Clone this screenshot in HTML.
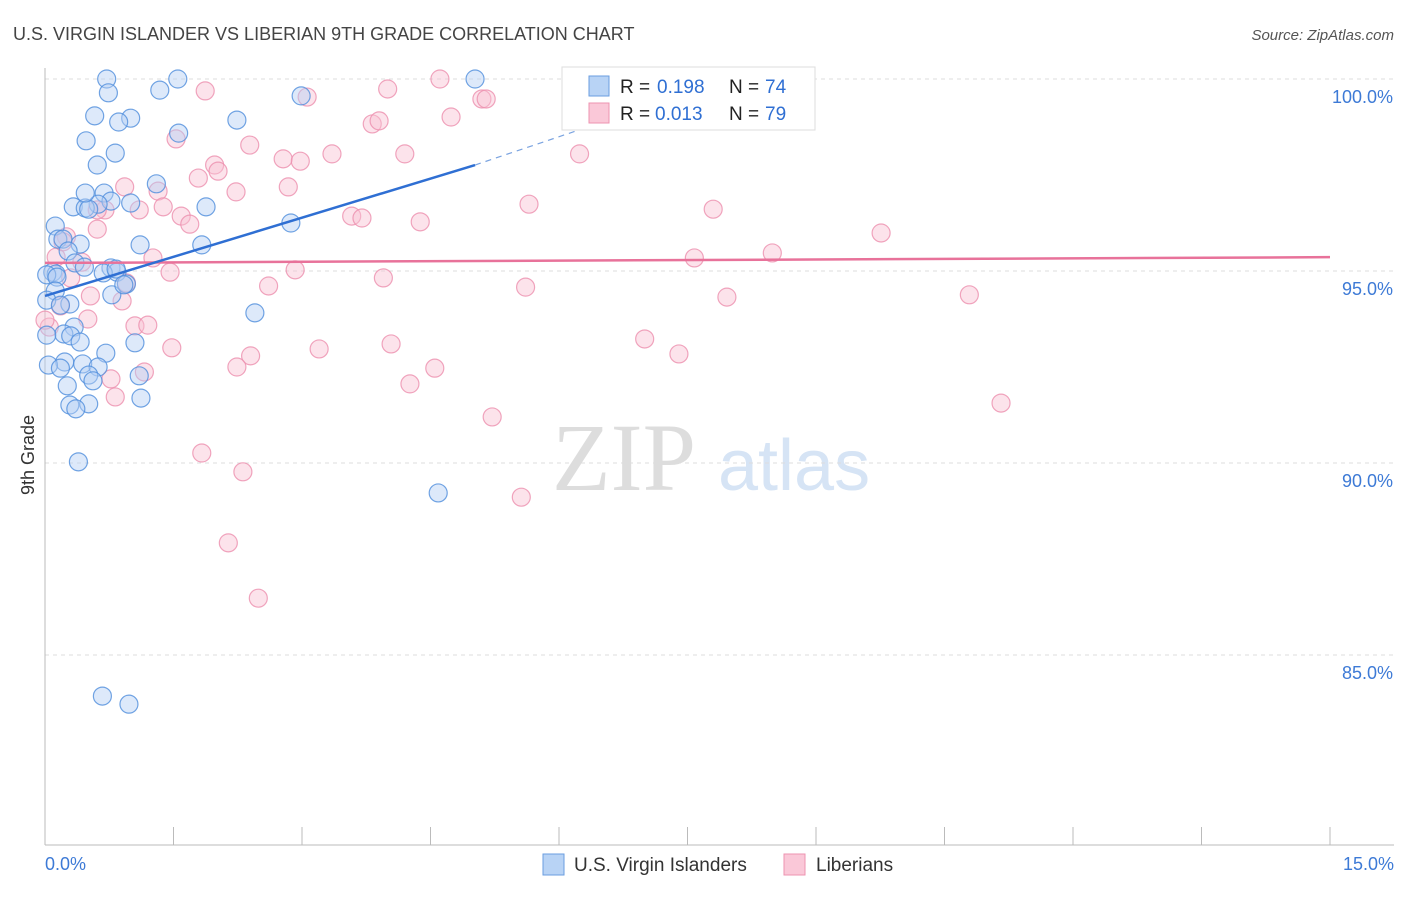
<!DOCTYPE html>
<html><head><meta charset="utf-8"><style>
body{margin:0;background:#fff;font-family:"Liberation Sans",sans-serif;}
</style></head><body>
<svg id="chart" width="1406" height="892" xmlns="http://www.w3.org/2000/svg" font-family="Liberation Sans, sans-serif">
<text x="13" y="40" font-size="18" fill="#444">U.S. VIRGIN ISLANDER VS LIBERIAN 9TH GRADE CORRELATION CHART</text>
<text x="1394" y="40" font-size="15" fill="#555" font-style="italic" text-anchor="end">Source: ZipAtlas.com</text>
<text x="552" y="490" font-size="96" fill="#ddd" font-family="Liberation Serif, serif">ZIP</text>
<text x="718" y="490" font-size="72" fill="#d6e4f5">atlas</text>
<g id="grid"></g><g id="axes"></g><g id="pts"></g><g id="trend"></g>
<text transform="translate(34,455) rotate(-90)" font-size="18" fill="#333" text-anchor="middle">9th Grade</text>
<g>
<rect x="562" y="67" width="253" height="63" fill="#fff" stroke="#ddd"/>
<rect x="589" y="76" width="20" height="20" fill="#b8d3f5" stroke="#6a9ee0"/>
<rect x="589" y="103" width="20" height="20" fill="#fac8d8" stroke="#ee93b0"/>
<text x="620" y="93" font-size="19" fill="#222">R =</text>
<text x="657" y="93" font-size="19" fill="#2f6fd3">0.198</text>
<text x="729" y="93" font-size="19" fill="#222">N =</text>
<text x="765" y="93" font-size="19" fill="#2f6fd3">74</text>
<text x="620" y="120" font-size="19" fill="#222">R =</text>
<text x="655" y="120" font-size="19" fill="#2f6fd3">0.013</text>
<text x="729" y="120" font-size="19" fill="#222">N =</text>
<text x="765" y="120" font-size="19" fill="#2f6fd3">79</text>
</g>
<g>
<rect x="543" y="854" width="21" height="21" fill="#b8d3f5" stroke="#6a9ee0"/>
<text x="574" y="871" font-size="19" fill="#333">U.S. Virgin Islanders</text>
<rect x="784" y="854" width="21" height="21" fill="#fac8d8" stroke="#ee93b0"/>
<text x="816" y="871" font-size="19" fill="#333">Liberians</text>
</g>
</svg>
<script>
const blueX=[0.72,1.55,5.02,0.74,1.34,2.99,0.58,1.00,0.86,2.24,1.56,0.48,0.82,0.61,1.30,0.69,0.77,0.62,0.33,0.47,0.51,1.00,1.88,0.12,2.87,0.15,0.21,0.41,1.11,1.83,0.27,0.35,0.46,0.77,0.84,0.68,0.09,0.13,0.02,0.14,0.95,0.12,0.78,0.02,0.29,0.18,2.45,0.34,0.22,0.30,0.41,1.05,0.02,0.71,0.23,0.44,0.62,0.04,0.18,0.51,0.56,1.10,0.26,1.12,0.51,0.29,0.36,0.39,4.59,0.67,0.98,0.47,0.83,0.92];
const blueY=[100.0,100.0,100.0,99.64,99.71,99.56,99.04,98.98,98.88,98.93,98.59,98.39,98.07,97.76,97.27,97.03,96.82,96.74,96.67,96.64,96.61,96.77,96.67,96.17,96.25,95.83,95.83,95.70,95.68,95.68,95.52,95.21,95.10,95.08,94.97,94.95,94.97,94.92,94.90,94.84,94.66,94.48,94.38,94.24,94.14,94.11,93.91,93.54,93.36,93.31,93.15,93.13,93.33,92.86,92.63,92.58,92.50,92.55,92.47,92.29,92.14,92.27,92.01,91.69,91.54,91.51,91.41,90.03,89.22,83.93,83.72,97.03,95.05,94.64];
const pinkX=[4.61,1.87,4.00,3.06,5.10,5.15,4.74,3.82,3.90,1.53,2.39,4.20,3.35,6.24,2.78,2.98,1.98,2.02,1.79,0.93,1.32,2.84,2.23,5.65,7.80,0.70,1.10,1.38,1.59,1.69,3.58,3.70,4.38,0.61,9.76,0.25,0.13,1.26,0.43,7.58,8.49,2.92,1.46,3.95,0.30,0.95,2.61,5.61,0.53,0.90,7.96,10.79,0.18,0.50,1.05,1.20,0.05,7.00,3.20,4.04,7.40,1.48,2.40,2.24,4.55,1.16,0.77,4.26,0.82,11.16,5.22,1.83,2.31,5.56,2.14,2.49,0.21,0.61,0.00];
const pinkY=[100.0,99.69,99.74,99.53,99.48,99.48,99.01,98.83,98.91,98.44,98.28,98.05,98.05,98.05,97.92,97.86,97.76,97.60,97.42,97.19,97.08,97.19,97.06,96.74,96.61,96.59,96.59,96.67,96.43,96.22,96.43,96.38,96.28,96.09,95.99,95.89,95.36,95.34,95.23,95.34,95.47,95.03,94.97,94.82,94.82,94.69,94.61,94.58,94.35,94.22,94.32,94.38,94.09,93.75,93.57,93.59,93.54,93.23,92.97,93.10,92.84,93.00,92.79,92.50,92.47,92.37,92.19,92.06,91.72,91.56,91.20,90.26,89.77,89.11,87.92,86.48,95.76,96.59,93.72];
const blueTrend=[[0,94.35],[5.02,97.76]];
const blueTrendDash=[[5.02,97.76],[7.2,99.4]];
const pinkTrend=[[0,95.21],[15,95.36]];
const yTicks=[100,95,90,85];
const yTickLabels=["100.0%","95.0%","90.0%","85.0%"];
const xTicks=[0,1.5,3,4.5,6,7.5,9,10.5,12,13.5,15];
const xEndLabels=["0.0%","15.0%"];
const NS="http://www.w3.org/2000/svg";
const X=v=>45+v*(1285/15), Y=v=>79+(100-v)*38.4;
function mk(tag,attrs,parent){const e=document.createElementNS(NS,tag);for(const k in attrs)e.setAttribute(k,attrs[k]);document.getElementById(parent).appendChild(e);return e;}
yTicks.forEach((t,i)=>{
 const l=mk('line',{x1:45,x2:1394,y1:Y(t),y2:Y(t),stroke:'#ddd','stroke-dasharray':'4,4'},'grid');
 
 
 const tx=mk('text',{x:1393,y:Y(t)+24,'font-size':18,fill:'#3d7ad6','text-anchor':'end'},'axes');
 tx.textContent=yTickLabels[i];
 
 
});
const ax=mk('line',{x1:45,x2:45,y1:68,y2:845,stroke:'#bbb'},'axes');


const bx=mk('line',{x1:45,x2:1394,y1:845,y2:845,stroke:'#bbb'},'axes');


xTicks.forEach(t=>{
 const l=mk('line',{x1:X(t),x2:X(t),y1:827,y2:845,stroke:'#bbb'},'axes');
 
 
});
[[0,'start'],[15,'end']].forEach((p,i)=>{
 const tx=mk('text',{x:i?1394:45,y:870,'font-size':18,fill:'#3d7ad6','text-anchor':p[1]},'axes');
 tx.textContent=xEndLabels[i];
 
 
});
function pts(xs,ys,fill,stroke,name){xs.forEach((x,i)=>{
 const c=mk('circle',{cx:X(x),cy:Y(ys[i]),r:9,fill:fill,'fill-opacity':0.45,stroke:stroke,'stroke-opacity':0.8,'stroke-width':1.2},'pts');
 
 
});}
pts(pinkX,pinkY,'#f8c0d2','#ec8fae','liberian-point');
pts(blueX,blueY,'#b3cff3','#4f8ddc','virgin-islander-point');
function line(p,color,w,dash,name){
 const l=mk('line',{x1:X(p[0][0]),y1:Y(p[0][1]),x2:X(p[1][0]),y2:Y(p[1][1]),stroke:color,'stroke-width':w},'trend');
 if(dash)l.setAttribute('stroke-dasharray',dash);
 
 
}
line(pinkTrend,'#e8729a',2.5,null,'liberian-trendline');
line(blueTrend,'#2f6fd3',2.5,null,'virgin-islander-trendline');
line(blueTrendDash,'#7aa3e0',1.2,'6,5','virgin-islander-trend-extension');
</script>
</body></html>
